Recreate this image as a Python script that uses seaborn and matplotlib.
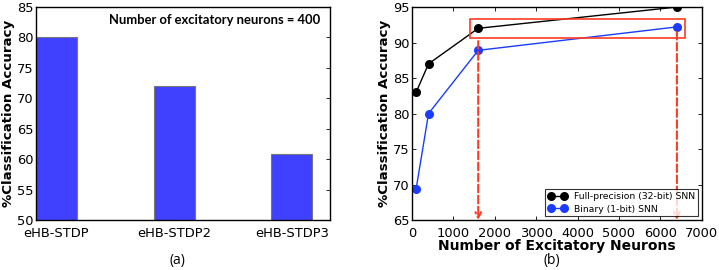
import matplotlib

matplotlib.use("Agg")

import matplotlib.pyplot as plt
import pandas as pd
import seaborn as sns
from matplotlib.patches import Rectangle

# panel (a)
RULES = ["eHB-STDP", "eHB-STDP2", "eHB-STDP3"]
RULE_ACC = [80.0, 72.0, 60.8]

# panel (b)
NEURONS = [100, 400, 1600, 6400]
FULL_ACC = [83.0, 87.0, 92.0, 95.0]
BINARY_ACC = [69.4, 80.0, 88.9, 92.2]
ARROW_X = [1600, 6400]
ARROW_TOP = [90.2, 91.5]
BOX_X = (1400, 6600)
BOX_Y = (90.7, 93.3)

RED = "#ff3b22"

sns.set_style("ticks")
plt.rcParams["font.family"] = ["DejaVu Sans"]
plt.rcParams["xtick.direction"] = "in"
plt.rcParams["ytick.direction"] = "in"
plt.rcParams["text.color"] = "black"
plt.rcParams["axes.labelcolor"] = "black"

fig = plt.figure(figsize=(7.19, 2.70), dpi=100)
ax_a = fig.add_axes([0.050, 0.185, 0.409, 0.789])
ax_b = fig.add_axes([0.573, 0.185, 0.403, 0.789])

# --- (a) bar chart
bars = pd.DataFrame({"rule": RULES, "acc": RULE_ACC})
sns.barplot(data=bars, x="rule", y="acc", ax=ax_a, width=0.35,
            color="#4040ff", saturation=1, edgecolor="#777777", linewidth=0.8)
ax_a.set_xlim(-0.175, 2.325)
ax_a.set_ylim(50, 85)
ax_a.set_yticks(range(50, 86, 5))
ax_a.set_xlabel("")
ax_a.set_ylabel("%Classification Accuracy", fontsize=9.6, fontweight="bold", labelpad=1)
ax_a.text(0.966, 0.94, "Number of excitatory neurons = 400", transform=ax_a.transAxes,
          ha="right", va="center", fontsize=9.4, fontweight="bold", family="Lato")

# --- (b) line chart
sns.lineplot(x=NEURONS, y=FULL_ACC, ax=ax_b, color="black", marker="o",
             markersize=6.5, linewidth=1, markeredgewidth=0,
             label="Full-precision (32-bit) SNN")
sns.lineplot(x=NEURONS, y=BINARY_ACC, ax=ax_b, color="#1a3cff", marker="o",
             markersize=6.5, linewidth=1, markeredgewidth=0,
             label="Binary (1-bit) SNN")
ax_b.set_xlim(0, 7000)
ax_b.set_ylim(65, 95)
ax_b.set_yticks(range(65, 96, 5))
ax_b.set_xticks(range(0, 7001, 1000))
ax_b.set_xlabel("Number of Excitatory Neurons", fontsize=10, fontweight="bold", labelpad=-1)
ax_b.set_ylabel("%Classification Accuracy", fontsize=9.6, fontweight="bold", labelpad=1)

ax_b.add_patch(Rectangle((BOX_X[0], BOX_Y[0]), BOX_X[1] - BOX_X[0], BOX_Y[1] - BOX_Y[0],
                         fill=False, edgecolor=RED, linewidth=1.2, zorder=4))
for x, top in zip(ARROW_X, ARROW_TOP):
    ax_b.annotate("", xy=(x, 65), xytext=(x, top),
                  arrowprops=dict(arrowstyle="->", color=RED, linestyle="--",
                                  linewidth=1.5, shrinkA=0, shrinkB=0))

leg = ax_b.legend(loc="lower right", fontsize=6.7, frameon=True, fancybox=False,
                  borderaxespad=0.4, handlelength=2.0, borderpad=0.3, labelspacing=0.4,
                  numpoints=2)
leg.get_frame().set_edgecolor("black")
leg.get_frame().set_linewidth(0.8)

for ax in (ax_a, ax_b):
    ax.tick_params(axis="both", labelsize=9.4, length=3, width=0.6, pad=2,
                   top=True, right=True, colors="black")
    ax.tick_params(axis="x", pad=5)
    for sp in ax.spines.values():
        sp.set_visible(True)
        sp.set_color("black")
        sp.set_linewidth(1)
ax_a.tick_params(axis="x", bottom=False, top=False)

fig.text(0.247, 0.035, "(a)", ha="center", va="center", fontsize=10, family="Open Sans")
fig.text(0.768, 0.035, "(b)", ha="center", va="center", fontsize=10, family="Open Sans")

fig.savefig("out.png", dpi=100)
